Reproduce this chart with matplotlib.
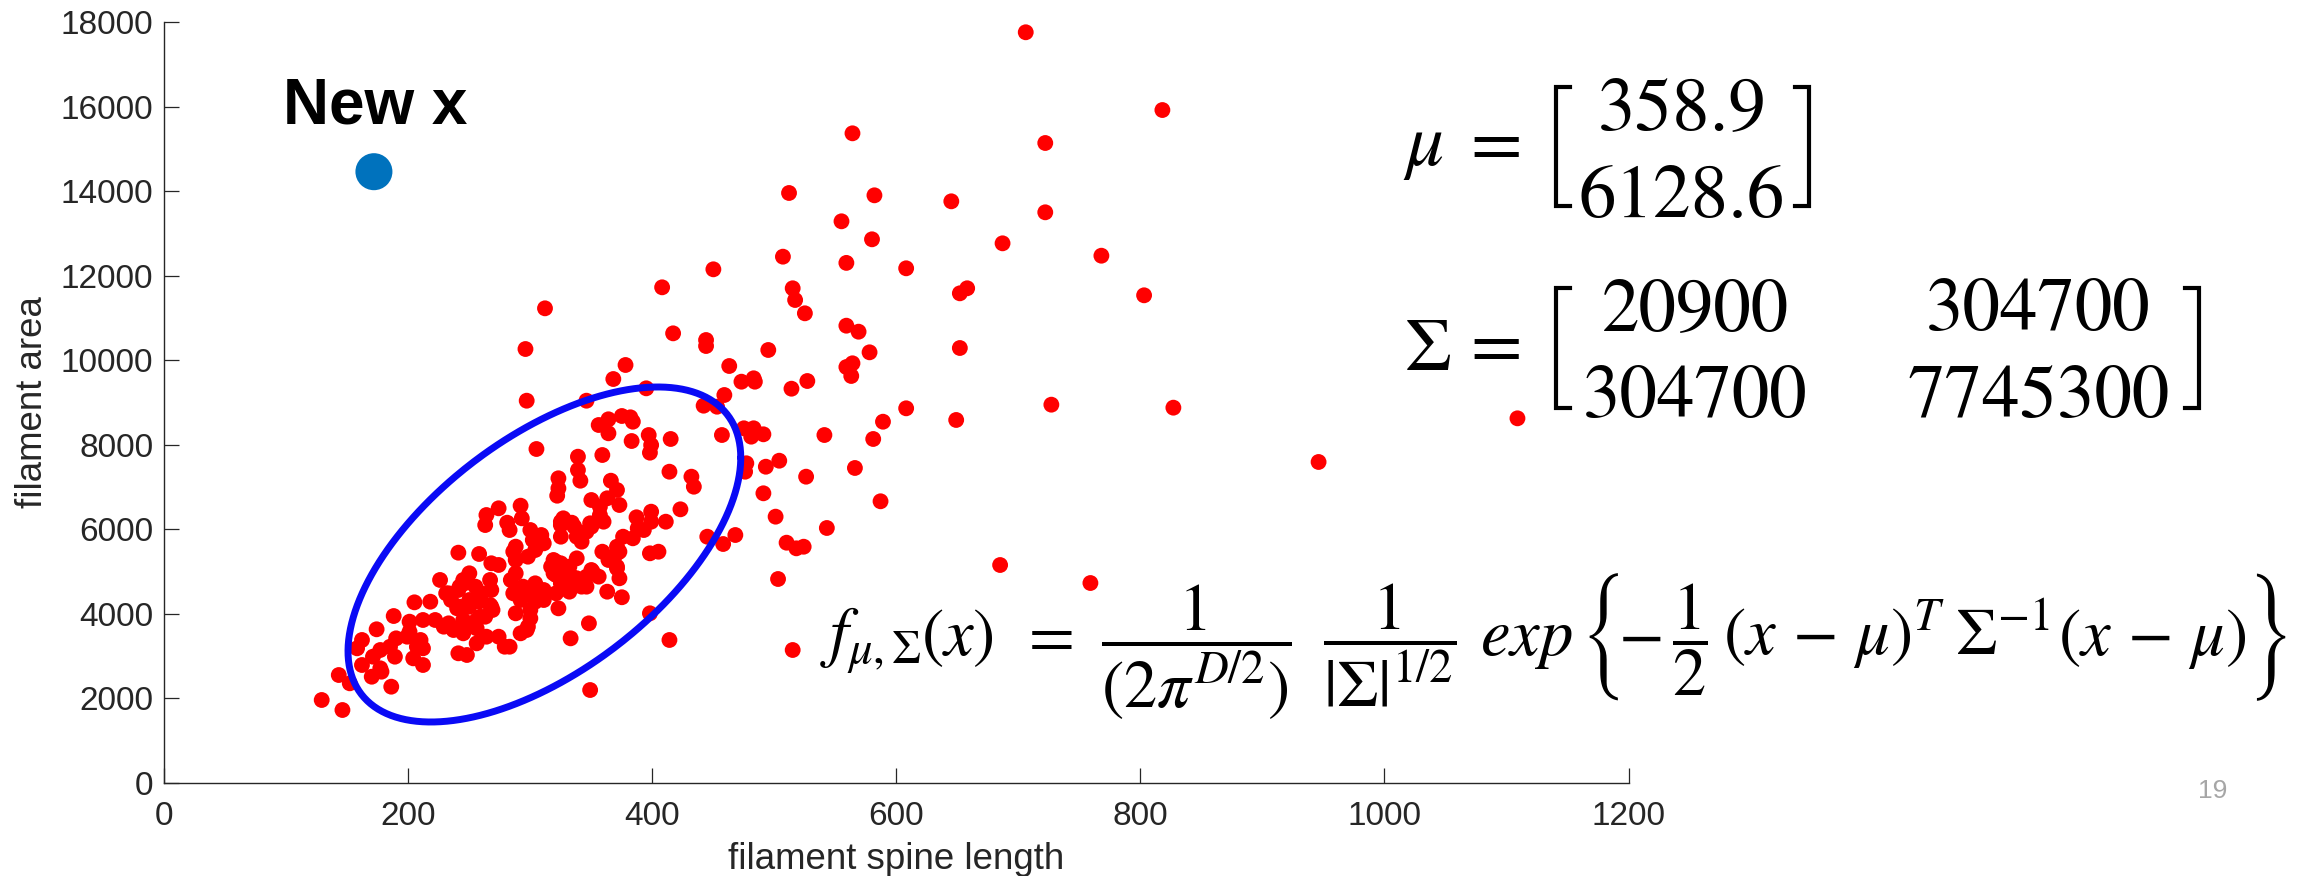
import numpy as np
import matplotlib
matplotlib.use("Agg")
import matplotlib.pyplot as plt
from matplotlib.lines import Line2D

plt.rcParams['font.family'] = ['Liberation Sans', 'DejaVu Sans']
plt.rcParams['mathtext.fontset'] = 'stix'

# ---------------- data ----------------
spine_length = [
    # sparse upper
    706, 818, 564, 722, 512, 582, 645, 555, 722, 580, 687, 768, 507, 559, 450, 608,
    652, 658, 803, 515, 517, 525, 408, 312, 559, 569, 578, 652, 444, 444, 495, 417, 296,
    # mid-right
    463, 473, 483, 484, 514, 527, 559, 564, 563, 459, 442, 453, 608, 727, 827, 649,
    589, 581, 541, 457, 475, 483, 481, 491, 477, 476, 493, 504, 526, 566, 946, 1109,
    432, 434, 491, 587, 501, 543, 510, 518, 524, 445, 458, 468, 503, 515, 685, 759,
    # upper cluster
    368, 378, 297, 346, 395, 356, 364, 375, 382, 384, 364, 383, 397, 399, 398, 415,
    305, 339, 359, 414, 339, 341, 323, 323, 322, 366, 371, 363, 373, 350, 357, 357,
    423, 387, 399, 399, 411, 274, 264, 263, 281, 292, 293, 327, 334, 349, 360, 325,
    388, 393, 384, 376, 371, 373, 398, 405, 371, 364, 359, 371, 373, 350, 356, 363,
    375, 346, 331, 348, 323, 333, 297, 300, 311, 398, 414, 349, 283,
    # core
    283, 300, 309, 302, 311, 304, 298, 288, 286, 288, 319, 317, 325, 321, 334, 325,
    288, 284, 294, 300, 304, 311, 292, 304, 300, 286, 288, 319, 321, 325, 338, 346,
    342, 332, 292, 298, 325, 336, 325, 338, 342, 346, 350, 321, 332, 338, 351, 371,
    # lower-left
    241, 258, 268, 274, 226, 250, 245, 255, 241, 267, 268, 218, 205, 231, 240, 250,
    259, 245, 268, 188, 174, 201, 212, 222, 229, 237, 245, 256, 201, 199, 210, 207,
    264, 274, 279, 256, 162, 158, 190, 185, 177, 189, 171, 212, 212, 204, 241, 248,
    162, 177, 170, 178, 143, 152, 186, 129, 146,
    260, 258, 267, 269, 250, 242, 250, 256, 263, 242, 233, 233, 235, 242, 246,
]
filament_area = [
    17757, 15917, 15366, 15137, 13954, 13899, 13757, 13284, 13497, 12858, 12763, 12470, 12447, 12300, 12148, 12172,
    11580, 11699, 11533, 11699, 11422, 11107, 11722, 11225, 10814, 10672, 10184, 10286, 10475, 10333, 10239, 10633, 10262,
    9860, 9489, 9569, 9489, 9323, 9505, 9836, 9924, 9624, 9174, 8921, 8897, 8859, 8945, 8874, 8583,
    8542, 8133, 8227, 8227, 8386, 8386, 8188, 8244, 7558, 7359, 7477, 7619, 7241, 7447, 7589, 8622,
    7241, 7004, 6848, 6659, 6295, 6027, 5679, 5546, 5584, 5821, 5648, 5861, 4820, 3140, 5151, 4725,
    9552, 9884, 9039, 9039, 9332, 8464, 8599, 8677, 8646, 8542, 8268, 8085, 8227, 7990, 7809, 8133,
    7896, 7714, 7754, 7359, 7399, 7146, 7203, 6966, 6791, 7146, 6926, 6730, 6571, 6689, 6531, 6334,
    6469, 6280, 6413, 6176, 6176, 6493, 6334, 6097, 6152, 6555, 6256, 6256, 6152, 6138, 6176, 6097,
    6020, 5979, 5783, 5821, 5585, 5467, 5428, 5466, 5428, 5270, 5466, 5073, 4837, 5033, 4876, 4520,
    4388, 4639, 4560, 3771, 4126, 3416, 3613, 3890, 4323, 4008, 3377, 2193, 3218,
    5979, 5979, 5861, 5742, 5664, 5506, 5348, 5585, 5467, 5270, 5270, 5112, 5191, 4915, 4876, 4718,
    4955, 4797, 4639, 4481, 4718, 4560, 4323, 4283, 4087, 4481, 4008, 4955, 4481, 5033, 4837, 4876,
    4639, 4520, 3535, 3692, 6176, 6058, 5821, 5821, 5703, 5939, 6058, 5230, 5112, 5309, 4993, 5112,
    5443, 5412, 5192, 5152, 4797, 4955, 4797, 4639, 4560, 4797, 4560, 4283, 4268, 4481, 4126, 4165,
    3928, 3850, 4165, 3944, 3630, 3810, 3850, 3850, 3692, 3613, 3535, 3653, 3573, 3455, 3377, 3218,
    3455, 3455, 3218, 3298, 3377, 3180, 3416, 3218, 3140, 2982, 2982, 3180, 2785, 2943, 3062, 3022,
    2785, 2707, 2508, 2627, 2548, 2352, 2272, 1957, 1720,
    4481, 4283, 4205, 4087, 4323, 4165, 3692, 3850, 3928, 3653, 3771, 4481, 4323, 4639, 4718,
]
new_x = [171.8]
new_y = [14458]
ell_center = [311.5, 5400.0]
ell_cov = [[25900.0, 368600.0], [368600.0, 15710000.0]]

x_ticks = [0, 200, 400, 600, 800, 1000, 1200]
y_ticks = [0, 2000, 4000, 6000, 8000, 10000, 12000, 14000, 16000, 18000]
mu_vals = ["358.9", "6128.6"]
sigma_vals = [["20900", "304700"], ["304700", "7745300"]]

# ---------------- figure ----------------
W, H = 2310, 876
fig = plt.figure(figsize=(W / 100, H / 100), dpi=100)
fig.patch.set_facecolor('white')

def fx(px):
    return px / W

def fy(py):
    return 1 - py / H

ax = fig.add_axes([164.3 / W, (H - 782.7) / H, (1628.5 - 164.3) / W, (782.7 - 22) / H])
ax.set_xlim(0, 1200)
ax.set_ylim(0, 18000)
ax.set_xticks(x_ticks)
ax.set_yticks(y_ticks)
for s in ['top', 'right']:
    ax.spines[s].set_visible(False)
for s in ['left', 'bottom']:
    ax.spines[s].set_color('#262626')
    ax.spines[s].set_linewidth(1.0)
ax.tick_params(direction='in', length=10.8, width=0.9, color='#262626',
               labelsize=24, labelcolor='#262626')
ax.tick_params(axis='x', pad=13)
ax.tick_params(axis='y', pad=8)
ax.set_xlabel('filament spine length', fontsize=26.4, color='#262626')
ax.set_ylabel('filament area', fontsize=26.4, color='#262626')
ax.xaxis.set_label_coords(0.5, -0.078)
ax.yaxis.set_label_coords(-0.078, 0.5)

ax.scatter(spine_length, filament_area, s=130, color='#FF0000', edgecolors='none',
           zorder=3, clip_on=False)

# ellipse from centre / covariance
t = np.linspace(0, 2 * np.pi, 500)
L = np.linalg.cholesky(np.array(ell_cov))
pts = np.array(ell_center)[:, None] + L @ np.vstack([np.cos(t), np.sin(t)])
ax.plot(pts[0], pts[1], color='#0A0AF5', lw=5.0, zorder=4, solid_capstyle='round')

ax.scatter(new_x, new_y, s=710, color='#0072BD', edgecolors='none', zorder=5, clip_on=False)
ax.text(97, 15590, 'New x', fontsize=46, fontweight='bold', color='black',
        ha='left', va='baseline')

# ---------------- mu / Sigma matrices ----------------
num_kw = dict(fontsize=54, family='STIXGeneral', color='black', va='baseline', ha='center')
fig.text(fx(1403), fy(165), r'$\mu$', fontsize=54, ha='left', va='baseline')
fig.text(fx(1496), fy(166), '=', fontsize=54, family='STIXGeneral', ha='center', va='baseline')
fig.text(fx(1682), fy(129), mu_vals[0], **num_kw)
fig.text(fx(1682), fy(217), mu_vals[1], **num_kw)

fig.text(fx(1404), fy(370), r'$\Sigma$', fontsize=54, ha='left', va='baseline')
fig.text(fx(1496), fy(368), '=', fontsize=54, family='STIXGeneral', ha='center', va='baseline')
fig.text(fx(1695), fy(330), sigma_vals[0][0], **num_kw)
fig.text(fx(2038), fy(330), sigma_vals[0][1], **num_kw)
fig.text(fx(1695), fy(417), sigma_vals[1][0], **num_kw)
fig.text(fx(2039), fy(417), sigma_vals[1][1], **num_kw)

def bracket(xv, xt, ytop, ybot):
    fig.add_artist(Line2D([fx(xt), fx(xv), fx(xv), fx(xt)],
                          [fy(ytop), fy(ytop), fy(ybot), fy(ybot)],
                          transform=fig.transFigure, color='black', lw=3.0,
                          solid_joinstyle='miter'))

bracket(1556, 1570, 87, 206)
bracket(1809, 1795, 87, 206)
bracket(1556, 1570, 288, 408)
bracket(2199, 2185, 288, 408)

# ---------------- density formula (placed piece by piece) ----------------
FS = 48
BASE = 655
pieces = [
    (r'$f_{\mu,\Sigma}$', 820, 'left'),
    (r'$(x)$', 921, 'left'),
    (r'$=$', 1046, 'center'),
    (r'$\dfrac{1}{(2\pi^{D/2})}$', 1196, 'center'),
    (r'$\dfrac{1}{|\Sigma|^{1/2}}$', 1390, 'center'),
    (r'$exp$', 1480, 'left'),
    (r'$-$', 1640, 'center'),
    (r'$\dfrac{1}{2}$', 1690, 'center'),
    (r'$(x\,-\,\mu)^{T}$', 1723, 'left'),
    (r'$\Sigma^{-1}$', 1955, 'left'),
    (r'$(x\,-\,\mu)$', 2058, 'left'),
]
for txt, px, ha in pieces:
    fig.text(fx(px), fy(BASE), txt, fontsize=FS, ha=ha, va='baseline', color='black')

fig.text(fx(1605), fy(637), '{', fontsize=50, family='STIXSizeTwoSym', ha='center',
         va='center', color='black')
fig.text(fx(2268), fy(637), '}', fontsize=50, family='STIXSizeTwoSym', ha='center',
         va='center', color='black')

fig.text(fx(2213), fy(798), '19', fontsize=19, color='#A6A6A6', ha='center', va='baseline')

fig.savefig('out.png', dpi=100, facecolor='white')
